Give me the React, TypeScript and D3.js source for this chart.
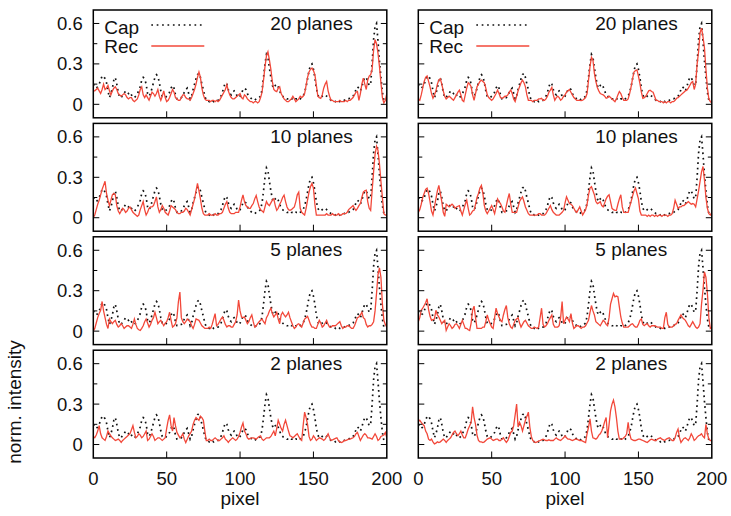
import * as d3 from "d3";

// axis ticks and labels
const pixelTicks = [0, 50, 100, 150, 200];
const pixelInnerTicks = [50, 100, 150];
const intensityTicks = [0, 0.3, 0.6];
const intensityMinorTicks = [0.15, 0.45];
const planeLabels = ["20 planes", "10 planes", "5 planes", "2 planes"];
const seriesNames = ["Cap", "Rec"];

// captured profile (same in every panel), pixel 0..200
const capIntensity = [
  0.15, 0.13, 0.12, 0.13, 0.15, 0.18, 0.21, 0.21, 0.19, 0.16,
  0.10, 0.05, 0.08, 0.12, 0.18, 0.20, 0.15, 0.09, 0.05, 0.05,
  0.07, 0.08, 0.10, 0.09, 0.08, 0.09, 0.07, 0.05, 0.05, 0.06,
  0.08, 0.10, 0.13, 0.18, 0.20, 0.19, 0.15, 0.08, 0.06, 0.08,
  0.12, 0.16, 0.20, 0.22, 0.21, 0.16, 0.10, 0.06, 0.05, 0.05,
  0.06, 0.07, 0.09, 0.12, 0.14, 0.12, 0.07, 0.04, 0.04, 0.05,
  0.05, 0.06, 0.09, 0.11, 0.12, 0.08, 0.04, 0.06, 0.11, 0.15,
  0.19, 0.22, 0.23, 0.20, 0.15, 0.11, 0.06, 0.03, 0.03, 0.02,
  0.03, 0.03, 0.02, 0.03, 0.03, 0.03, 0.04, 0.06, 0.09, 0.13,
  0.16, 0.15, 0.11, 0.08, 0.07, 0.09, 0.10, 0.09, 0.06, 0.05,
  0.06, 0.08, 0.11, 0.12, 0.11, 0.08, 0.06, 0.05, 0.04, 0.04,
  0.03, 0.04, 0.04, 0.05, 0.06, 0.11, 0.20, 0.30, 0.37, 0.35,
  0.27, 0.20, 0.14, 0.12, 0.14, 0.15, 0.13, 0.10, 0.07, 0.06,
  0.05, 0.05, 0.04, 0.04, 0.05, 0.04, 0.04, 0.03, 0.04, 0.04,
  0.03, 0.04, 0.05, 0.06, 0.09, 0.13, 0.19, 0.25, 0.29, 0.30,
  0.26, 0.20, 0.12, 0.07, 0.05, 0.05, 0.06, 0.07, 0.07, 0.06,
  0.05, 0.04, 0.03, 0.03, 0.03, 0.02, 0.03, 0.03, 0.02, 0.03,
  0.03, 0.03, 0.04, 0.04, 0.04, 0.05, 0.05, 0.06, 0.08, 0.11,
  0.13, 0.12, 0.10, 0.13, 0.17, 0.20, 0.20, 0.17, 0.14, 0.15,
  0.30, 0.48, 0.58, 0.60, 0.47, 0.32, 0.20, 0.09, 0.03, 0.02,
  0.02,
];

// reconstructed profiles, left column
const rec20Left = [
  0.10, 0.10, 0.11, 0.12, 0.10, 0.08, 0.11, 0.15, 0.11, 0.12,
  0.14, 0.10, 0.07, 0.10, 0.12, 0.13, 0.11, 0.08, 0.07, 0.06,
  0.07, 0.08, 0.07, 0.05, 0.04, 0.05, 0.05, 0.03, 0.02, 0.03,
  0.04, 0.07, 0.11, 0.13, 0.07, 0.05, 0.07, 0.05, 0.03, 0.06,
  0.09, 0.08, 0.06, 0.08, 0.11, 0.06, 0.03, 0.06, 0.10, 0.05,
  0.02, 0.03, 0.05, 0.08, 0.11, 0.09, 0.05, 0.04, 0.03, 0.03,
  0.05, 0.07, 0.07, 0.05, 0.04, 0.04, 0.03, 0.05, 0.08, 0.11,
  0.15, 0.20, 0.24, 0.20, 0.12, 0.07, 0.04, 0.03, 0.03, 0.03,
  0.02, 0.03, 0.03, 0.02, 0.03, 0.02, 0.03, 0.05, 0.07, 0.09,
  0.11, 0.145, 0.10, 0.07, 0.05, 0.04, 0.04, 0.05, 0.06, 0.07,
  0.08, 0.05, 0.04, 0.07, 0.06, 0.04, 0.03, 0.02, 0.02, 0.01,
  0.02, 0.02, 0.01, 0.02, 0.05, 0.09, 0.18, 0.28, 0.36, 0.39,
  0.33, 0.26, 0.17, 0.11, 0.10, 0.095, 0.12, 0.13, 0.08, 0.06,
  0.04, 0.03, 0.02, 0.02, 0.03, 0.04, 0.06, 0.04, 0.02, 0.03,
  0.04, 0.06, 0.05, 0.06, 0.08, 0.14, 0.20, 0.24, 0.26, 0.27,
  0.25, 0.22, 0.14, 0.06, 0.05, 0.045, 0.07, 0.12, 0.15, 0.17,
  0.10, 0.06, 0.03, 0.03, 0.02, 0.02, 0.02, 0.02, 0.03, 0.02,
  0.02, 0.02, 0.03, 0.02, 0.03, 0.03, 0.04, 0.05, 0.07, 0.09,
  0.095, 0.03, 0.08, 0.15, 0.195, 0.15, 0.11, 0.18, 0.21, 0.22,
  0.26, 0.40, 0.48, 0.45, 0.38, 0.28, 0.16, 0.05, 0.01, 0.03,
  0.08,
];

const rec10Left = [
  0.00, 0.02, 0.06, 0.10, 0.13, 0.17, 0.21, 0.24, 0.27, 0.18,
  0.13, 0.09, 0.13, 0.17, 0.18, 0.17, 0.09, 0.05, 0.03, 0.05,
  0.07, 0.06, 0.04, 0.05, 0.07, 0.08, 0.06, 0.04, 0.03, 0.02,
  0.01, 0.02, 0.06, 0.09, 0.12, 0.06, 0.02, 0.04, 0.07, 0.08,
  0.08, 0.09, 0.12, 0.155, 0.08, 0.04, 0.06, 0.09, 0.07, 0.04,
  0.03, 0.02, 0.05, 0.09, 0.08, 0.07, 0.06, 0.04, 0.03, 0.03,
  0.04, 0.04, 0.05, 0.07, 0.06, 0.04, 0.02, 0.06, 0.10, 0.14,
  0.20, 0.255, 0.20, 0.14, 0.07, 0.03, 0.02, 0.02, 0.02, 0.03,
  0.02, 0.02, 0.02, 0.03, 0.02, 0.02, 0.03, 0.03, 0.04, 0.07,
  0.10, 0.12, 0.07, 0.04, 0.03, 0.03, 0.03, 0.04, 0.04, 0.04,
  0.08, 0.13, 0.17, 0.12, 0.09, 0.08, 0.07, 0.07, 0.09, 0.105,
  0.14, 0.165, 0.12, 0.08, 0.06, 0.05, 0.04, 0.08, 0.12, 0.10,
  0.09, 0.11, 0.13, 0.14, 0.09, 0.055, 0.07, 0.10, 0.12, 0.15,
  0.167, 0.12, 0.08, 0.06, 0.055, 0.06, 0.07, 0.08, 0.12, 0.17,
  0.19, 0.07, 0.04, 0.03, 0.02, 0.07, 0.13, 0.19, 0.23, 0.255,
  0.22, 0.10, 0.02, 0.02, 0.02, 0.02, 0.02, 0.02, 0.02, 0.03,
  0.02, 0.02, 0.02, 0.03, 0.02, 0.02, 0.02, 0.03, 0.02, 0.02,
  0.03, 0.03, 0.03, 0.04, 0.06, 0.07, 0.08, 0.09, 0.07, 0.055,
  0.07, 0.09, 0.105, 0.15, 0.19, 0.20, 0.205, 0.12, 0.07, 0.055,
  0.20, 0.34, 0.47, 0.53, 0.50, 0.40, 0.27, 0.15, 0.03, 0.02,
  0.02,
];

const rec5Left = [
  0.00, 0.02, 0.06, 0.10, 0.13, 0.155, 0.22, 0.15, 0.10, 0.05,
  0.02, 0.09, 0.07, 0.055, 0.07, 0.08, 0.05, 0.03, 0.04, 0.055,
  0.04, 0.02, 0.03, 0.04, 0.04, 0.03, 0.02, 0.05, 0.09, 0.05,
  0.02, 0.01, 0.005, 0.02, 0.04, 0.07, 0.09, 0.06, 0.03, 0.05,
  0.08, 0.10, 0.14, 0.10, 0.055, 0.07, 0.08, 0.06, 0.04, 0.06,
  0.07, 0.10, 0.14, 0.08, 0.03, 0.04, 0.055, 0.10, 0.22, 0.29,
  0.10, 0.07, 0.055, 0.07, 0.09, 0.08, 0.07, 0.04, 0.02, 0.05,
  0.09, 0.085, 0.08, 0.06, 0.04, 0.03, 0.02, 0.02, 0.02, 0.03,
  0.02, 0.05, 0.09, 0.13, 0.04, 0.05, 0.07, 0.09, 0.105, 0.08,
  0.05, 0.03, 0.04, 0.04, 0.03, 0.03, 0.05, 0.07, 0.12, 0.23,
  0.15, 0.105, 0.10, 0.105, 0.08, 0.055, 0.07, 0.10, 0.12, 0.07,
  0.03, 0.04, 0.055, 0.07, 0.08, 0.09, 0.07, 0.055, 0.10, 0.12,
  0.15, 0.17, 0.13, 0.105, 0.12, 0.14, 0.09, 0.055, 0.12, 0.14,
  0.12, 0.105, 0.12, 0.14, 0.10, 0.07, 0.04, 0.02, 0.03, 0.05,
  0.055, 0.04, 0.03, 0.06, 0.09, 0.10, 0.11, 0.08, 0.05, 0.03,
  0.03, 0.02, 0.02, 0.05, 0.08, 0.06, 0.03, 0.04, 0.06, 0.08,
  0.05, 0.03, 0.03, 0.04, 0.04, 0.04, 0.05, 0.06, 0.07, 0.04,
  0.02, 0.03, 0.03, 0.04, 0.04, 0.03, 0.02, 0.02, 0.04, 0.07,
  0.10, 0.105, 0.12, 0.14, 0.10, 0.09, 0.05, 0.03, 0.04, 0.04,
  0.05, 0.07, 0.15, 0.28, 0.42, 0.47, 0.40, 0.20, 0.08, 0.05,
  0.03,
];

const rec2Left = [
  0.06, 0.05, 0.07, 0.10, 0.14, 0.08, 0.05, 0.04, 0.03, 0.06,
  0.10, 0.08, 0.065, 0.05, 0.04, 0.03, 0.035, 0.04, 0.03, 0.015,
  0.03, 0.04, 0.05, 0.06, 0.07, 0.08, 0.11, 0.14, 0.09, 0.05,
  0.06, 0.08, 0.07, 0.05, 0.06, 0.08, 0.10, 0.03, 0.04, 0.06,
  0.08, 0.06, 0.03, 0.04, 0.05, 0.05, 0.04, 0.03, 0.04, 0.05,
  0.12, 0.18, 0.22, 0.14, 0.10, 0.20, 0.14, 0.09, 0.07, 0.05,
  0.06, 0.08, 0.04, 0.015, 0.04, 0.065, 0.08, 0.10, 0.15, 0.18,
  0.20, 0.19, 0.18, 0.21, 0.20, 0.18, 0.10, 0.03, 0.03, 0.04,
  0.03, 0.03, 0.04, 0.05, 0.04, 0.03, 0.03, 0.04, 0.05, 0.065,
  0.04, 0.03, 0.015, 0.03, 0.04, 0.05, 0.04, 0.03, 0.04, 0.06,
  0.09, 0.13, 0.16, 0.10, 0.08, 0.05, 0.04, 0.045, 0.05, 0.05,
  0.045, 0.04, 0.05, 0.06, 0.065, 0.04, 0.03, 0.04, 0.05, 0.05,
  0.05, 0.06, 0.08, 0.10, 0.065, 0.12, 0.18, 0.15, 0.12, 0.10,
  0.15, 0.18, 0.14, 0.10, 0.065, 0.06, 0.05, 0.06, 0.07, 0.08,
  0.06, 0.04, 0.03, 0.14, 0.24, 0.20, 0.15, 0.06, 0.03, 0.04,
  0.065, 0.05, 0.03, 0.04, 0.05, 0.045, 0.04, 0.03, 0.04, 0.06,
  0.08, 0.05, 0.03, 0.035, 0.04, 0.045, 0.05, 0.03, 0.02, 0.015,
  0.02, 0.03, 0.03, 0.035, 0.04, 0.04, 0.045, 0.05, 0.06, 0.08,
  0.09, 0.06, 0.03, 0.05, 0.07, 0.08, 0.07, 0.05, 0.05, 0.045,
  0.04, 0.06, 0.08, 0.06, 0.03, 0.04, 0.06, 0.065, 0.07, 0.09,
  0.05,
];

// reconstructed profiles, right column
const rec20Right = [
  0.04, 0.03, 0.07, 0.12, 0.17, 0.20, 0.21, 0.17, 0.13, 0.08,
  0.045, 0.07, 0.10, 0.15, 0.18, 0.19, 0.15, 0.10, 0.06, 0.04,
  0.05, 0.06, 0.05, 0.04, 0.03, 0.05, 0.07, 0.09, 0.105, 0.07,
  0.03, 0.02, 0.07, 0.12, 0.16, 0.15, 0.13, 0.07, 0.03, 0.08,
  0.13, 0.15, 0.17, 0.18, 0.17, 0.16, 0.12, 0.07, 0.05, 0.04,
  0.03, 0.04, 0.06, 0.08, 0.105, 0.08, 0.05, 0.045, 0.05, 0.06,
  0.06, 0.07, 0.09, 0.105, 0.08, 0.04, 0.02, 0.06, 0.10, 0.13,
  0.16, 0.18, 0.16, 0.13, 0.07, 0.03, 0.03, 0.03, 0.02, 0.03,
  0.03, 0.03, 0.04, 0.04, 0.045, 0.03, 0.03, 0.04, 0.06, 0.09,
  0.105, 0.125, 0.07, 0.03, 0.05, 0.06, 0.05, 0.03, 0.04, 0.06,
  0.07, 0.09, 0.10, 0.11, 0.09, 0.07, 0.05, 0.04, 0.03, 0.03,
  0.03, 0.027, 0.03, 0.04, 0.05, 0.08, 0.18, 0.28, 0.35, 0.33,
  0.23, 0.17, 0.125, 0.10, 0.08, 0.075, 0.07, 0.06, 0.045, 0.05,
  0.06, 0.05, 0.04, 0.03, 0.02, 0.04, 0.07, 0.095, 0.08, 0.05,
  0.03, 0.03, 0.03, 0.04, 0.08, 0.13, 0.19, 0.24, 0.25, 0.255,
  0.21, 0.155, 0.09, 0.045, 0.05, 0.06, 0.08, 0.10, 0.105, 0.095,
  0.09, 0.06, 0.03, 0.03, 0.02, 0.02, 0.02, 0.01, 0.02, 0.01,
  0.02, 0.02, 0.01, 0.02, 0.02, 0.03, 0.045, 0.05, 0.06, 0.07,
  0.08, 0.09, 0.10, 0.105, 0.12, 0.14, 0.16, 0.17, 0.11, 0.15,
  0.30, 0.39, 0.53, 0.565, 0.50, 0.42, 0.26, 0.12, 0.04, 0.02,
  0.01,
];

const rec10Right = [
  0.04, 0.06, 0.10, 0.15, 0.18, 0.21, 0.22, 0.18, 0.12, 0.05,
  0.02, 0.08, 0.14, 0.20, 0.24, 0.18, 0.12, 0.04, 0.01, 0.10,
  0.09, 0.08, 0.09, 0.10, 0.09, 0.07, 0.08, 0.085, 0.09, 0.05,
  0.02, 0.06, 0.10, 0.13, 0.07, 0.02, 0.03, 0.05, 0.055, 0.10,
  0.15, 0.18, 0.22, 0.24, 0.18, 0.09, 0.05, 0.03, 0.05, 0.07,
  0.09, 0.06, 0.03, 0.08, 0.14, 0.12, 0.105, 0.08, 0.05, 0.04,
  0.09, 0.14, 0.18, 0.10, 0.04, 0.04, 0.04, 0.04, 0.08, 0.12,
  0.14, 0.155, 0.12, 0.08, 0.055, 0.03, 0.02, 0.02, 0.02, 0.02,
  0.02, 0.02, 0.03, 0.03, 0.02, 0.02, 0.02, 0.03, 0.05, 0.07,
  0.09, 0.06, 0.04, 0.03, 0.02, 0.02, 0.02, 0.03, 0.04, 0.055,
  0.11, 0.155, 0.13, 0.105, 0.10, 0.09, 0.07, 0.05, 0.04, 0.06,
  0.08, 0.05, 0.02, 0.04, 0.06, 0.10, 0.17, 0.22, 0.23, 0.20,
  0.17, 0.12, 0.105, 0.11, 0.12, 0.09, 0.08, 0.11, 0.14, 0.16,
  0.17, 0.12, 0.07, 0.06, 0.055, 0.055, 0.10, 0.14, 0.17, 0.08,
  0.04, 0.04, 0.04, 0.04, 0.08, 0.12, 0.16, 0.20, 0.22, 0.18,
  0.14, 0.05, 0.02, 0.02, 0.02, 0.02, 0.01, 0.02, 0.01, 0.02,
  0.02, 0.01, 0.02, 0.01, 0.02, 0.02, 0.01, 0.02, 0.02, 0.02,
  0.01, 0.02, 0.02, 0.03, 0.07, 0.13, 0.10, 0.07, 0.08, 0.08,
  0.09, 0.09, 0.10, 0.11, 0.12, 0.11, 0.10, 0.105, 0.10, 0.08,
  0.14, 0.20, 0.27, 0.34, 0.38, 0.28, 0.15, 0.07, 0.03, 0.02,
  0.04,
];

const rec5Right = [
  0.07, 0.10, 0.155, 0.17, 0.19, 0.21, 0.24, 0.16, 0.11, 0.08,
  0.085, 0.09, 0.155, 0.12, 0.105, 0.08, 0.055, 0.07, 0.08, 0.005,
  0.03, 0.055, 0.04, 0.02, 0.03, 0.05, 0.055, 0.04, 0.02, 0.05,
  0.08, 0.05, 0.02, 0.02, 0.01, 0.005, 0.06, 0.155, 0.185, 0.10,
  0.02, 0.02, 0.02, 0.02, 0.03, 0.03, 0.07, 0.12, 0.08, 0.055,
  0.03, 0.02, 0.10, 0.17, 0.13, 0.105, 0.08, 0.07, 0.12, 0.16,
  0.19, 0.10, 0.055, 0.03, 0.02, 0.05, 0.08, 0.09, 0.10, 0.06,
  0.03, 0.05, 0.07, 0.08, 0.06, 0.04, 0.03, 0.02, 0.02, 0.03,
  0.025, 0.02, 0.03, 0.10, 0.17, 0.05, 0.03, 0.04, 0.055, 0.08,
  0.10, 0.12, 0.05, 0.03, 0.03, 0.03, 0.04, 0.10, 0.22, 0.055,
  0.08, 0.105, 0.09, 0.07, 0.13, 0.06, 0.02, 0.03, 0.04, 0.04,
  0.03, 0.02, 0.03, 0.03, 0.04, 0.06, 0.08, 0.14, 0.19, 0.15,
  0.12, 0.07, 0.06, 0.05, 0.04, 0.06, 0.08, 0.07, 0.05, 0.04,
  0.10, 0.20, 0.24, 0.28, 0.255, 0.26, 0.255, 0.18, 0.105, 0.06,
  0.03, 0.03, 0.03, 0.03, 0.04, 0.05, 0.055, 0.04, 0.03, 0.03,
  0.05, 0.08, 0.09, 0.05, 0.04, 0.05, 0.055, 0.04, 0.03, 0.04,
  0.04, 0.04, 0.035, 0.03, 0.03, 0.03, 0.02, 0.02, 0.10, 0.14,
  0.05, 0.03, 0.03, 0.03, 0.04, 0.05, 0.055, 0.08, 0.10, 0.12,
  0.10, 0.09, 0.08, 0.06, 0.04, 0.03, 0.05, 0.07, 0.05, 0.03,
  0.02, 0.03, 0.055, 0.20, 0.305, 0.44, 0.40, 0.28, 0.10, 0.02,
  0.03,
];

const rec2Right = [
  0.17, 0.18, 0.165, 0.15, 0.14, 0.10, 0.08, 0.04, 0.03, 0.04,
  0.02, 0.005, 0.01, 0.02, 0.015, 0.02, 0.03, 0.04, 0.03, 0.015,
  0.03, 0.04, 0.05, 0.07, 0.09, 0.10, 0.08, 0.065, 0.08, 0.10,
  0.07, 0.05, 0.05, 0.08, 0.115, 0.14, 0.165, 0.28, 0.20, 0.15,
  0.07, 0.03, 0.02, 0.02, 0.015, 0.02, 0.03, 0.04, 0.045, 0.05,
  0.04, 0.03, 0.035, 0.04, 0.04, 0.03, 0.03, 0.04, 0.05, 0.03,
  0.015, 0.03, 0.06, 0.09, 0.10, 0.14, 0.22, 0.30, 0.13, 0.165,
  0.14, 0.10, 0.14, 0.18, 0.21, 0.24, 0.13, 0.06, 0.03, 0.02,
  0.015, 0.02, 0.025, 0.03, 0.035, 0.04, 0.035, 0.03, 0.03, 0.035,
  0.03, 0.03, 0.03, 0.04, 0.05, 0.04, 0.035, 0.03, 0.04, 0.05,
  0.065, 0.05, 0.04, 0.04, 0.035, 0.03, 0.035, 0.04, 0.04, 0.035,
  0.03, 0.03, 0.025, 0.02, 0.015, 0.08, 0.13, 0.19, 0.10, 0.05,
  0.045, 0.04, 0.05, 0.07, 0.08, 0.10, 0.13, 0.17, 0.20, 0.05,
  0.15, 0.25, 0.30, 0.33, 0.28, 0.20, 0.10, 0.04, 0.04, 0.04,
  0.05, 0.06, 0.08, 0.165, 0.08, 0.04, 0.035, 0.03, 0.03, 0.035,
  0.04, 0.04, 0.035, 0.03, 0.025, 0.02, 0.015, 0.025, 0.035, 0.04,
  0.035, 0.03, 0.03, 0.04, 0.045, 0.05, 0.04, 0.035, 0.03, 0.04,
  0.045, 0.05, 0.04, 0.03, 0.03, 0.05, 0.09, 0.115, 0.05, 0.015,
  0.03, 0.045, 0.05, 0.04, 0.03, 0.05, 0.08, 0.06, 0.03, 0.04,
  0.055, 0.065, 0.07, 0.08, 0.06, 0.05, 0.15, 0.08, 0.04, 0.03,
  0.03,
];

const recColumns = [
  [rec20Left, rec10Left, rec5Left, rec2Left],
  [rec20Right, rec10Right, rec5Right, rec2Right],
];

const WIDTH = 731;
const HEIGHT = 516;
const columnLeft = [93.3, 418.3];
const panelWidth = 293.5;
const firstTop = 10;
const rowStep = 113.4;
const panelHeight = 107.8;
const font = "'Liberation Sans', Arial, Helvetica, sans-serif";
const recColor = "#f2483a";
const capDash = "1.7 3.7";

function Panel({ col, row }: { col: number; row: number }) {
  const left = columnLeft[col];
  const top = firstTop + row * rowStep;
  const bottom = top + panelHeight;
  const right = left + panelWidth;
  const clipId = `clip-${col}-${row}`;

  const x = d3.scaleLinear().domain([0, 200]).range([left, right]);
  const y = d3.scaleLinear().domain([-0.1, 0.7]).range([bottom, top]);
  const line = d3
    .line<number>()
    .x((_, i) => x(i))
    .y((d) => y(d));

  const rec = recColumns[col][row];
  const isBottom = row === planeLabels.length - 1;

  return (
    <g>
      <defs>
        <clipPath id={clipId}>
          <rect x={left} y={top} width={panelWidth} height={panelHeight} />
        </clipPath>
      </defs>

      <g clipPath={`url(#${clipId})`}>
        <path
          d={line(capIntensity) ?? ""}
          fill="none"
          stroke="#111"
          strokeWidth={1.7}
          strokeDasharray={capDash}
        />
        <path d={line(rec) ?? ""} fill="none" stroke={recColor} strokeWidth={1.3} />
      </g>

      {/* y ticks, both sides, inward */}
      {intensityTicks.map((t) => (
        <g key={`maj${t}`} stroke="#000" strokeWidth={1}>
          <line x1={left} x2={left + 6} y1={y(t)} y2={y(t)} />
          <line x1={right - 6} x2={right} y1={y(t)} y2={y(t)} />
        </g>
      ))}
      {intensityMinorTicks.map((t) => (
        <g key={`min${t}`} stroke="#000" strokeWidth={1}>
          <line x1={left} x2={left + 4} y1={y(t)} y2={y(t)} />
          <line x1={right - 4} x2={right} y1={y(t)} y2={y(t)} />
        </g>
      ))}
      {pixelInnerTicks.map((t) => (
        <line key={`x${t}`} x1={x(t)} x2={x(t)} y1={bottom} y2={bottom - 6.5} stroke="#000" strokeWidth={1} />
      ))}

      <rect x={left} y={top} width={panelWidth} height={panelHeight} fill="none" stroke="#000" strokeWidth={1.5} />

      <text x={left + 177} y={top + 19.5} fontSize={19} fontFamily={font} fill="#111">
        {planeLabels[row]}
      </text>

      {row === 0 && (
        <g fontFamily={font} fontSize={19} fill="#111">
          <text x={left + 11} y={top + 24}>{seriesNames[0]}</text>
          <line
            x1={left + 58}
            x2={left + 110}
            y1={top + 15}
            y2={top + 15}
            stroke="#111"
            strokeWidth={1.7}
            strokeDasharray={capDash}
          />
          <text x={left + 11} y={top + 43}>{seriesNames[1]}</text>
          <line x1={left + 58} x2={left + 111} y1={top + 36} y2={top + 36} stroke={recColor} strokeWidth={1.3} />
        </g>
      )}

      {col === 0 &&
        intensityTicks.map((t) => (
          <text
            key={`yl${t}`}
            x={left - 10.5}
            y={y(t)}
            dy="0.35em"
            textAnchor="end"
            fontSize={18.5}
            fontFamily={font}
            fill="#111"
          >
            {t === 0 ? "0" : t.toFixed(1)}
          </text>
        ))}

      {isBottom && (
        <g fontFamily={font} fill="#111">
          {pixelTicks.map((t) => (
            <text key={`xl${t}`} x={x(t)} y={bottom + 27} textAnchor="middle" fontSize={18.5}>
              {t}
            </text>
          ))}
          <text x={(left + right) / 2} y={bottom + 46.5} textAnchor="middle" fontSize={19}>
            pixel
          </text>
        </g>
      )}
    </g>
  );
}

export default function App() {
  return (
    <svg
      width={WIDTH}
      height={HEIGHT}
      style={{ position: "absolute", left: 0, top: 0, background: "#fff" }}
    >
      <rect width={WIDTH} height={HEIGHT} fill="#fff" />
      {[0, 1].map((col) =>
        planeLabels.map((_, row) => <Panel key={`${col}-${row}`} col={col} row={row} />)
      )}
      <text
        transform="translate(21,402) rotate(-90)"
        textAnchor="middle"
        fontSize={19}
        fontFamily={font}
        fill="#111"
      >
        norm. intensity
      </text>
    </svg>
  );
}
